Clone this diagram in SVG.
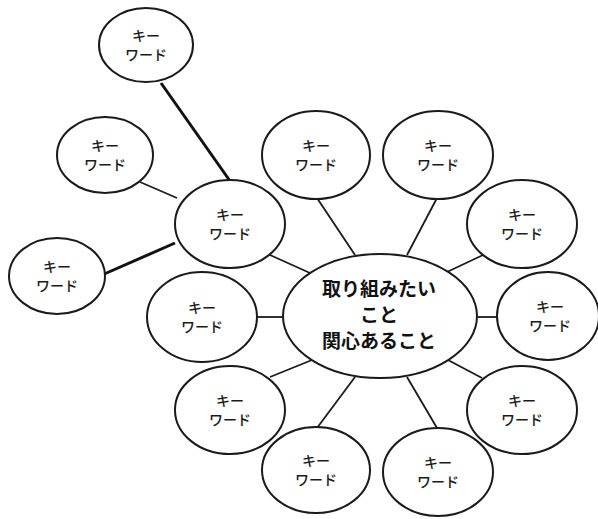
<svg xmlns="http://www.w3.org/2000/svg" width="598" height="519" viewBox="0 0 598 519">
<style>
.n{fill:#fff;stroke:#1a1a1a;stroke-width:2}
.k{font-family:"Noto Sans CJK JP","Noto Sans",sans-serif;font-size:14px;font-weight:500;fill:#1a1a1a;text-anchor:middle}
.c{font-family:"Noto Sans CJK JP","Noto Sans",sans-serif;font-size:19px;font-weight:bold;fill:#111;text-anchor:middle}
.l{stroke:#1a1a1a;stroke-width:1.8;fill:none}
.t{stroke:#111;stroke-width:3;fill:none}
</style>
<rect width="598" height="519" fill="#fff"/>
<g id="connectors">
<line class="t" x1="161" y1="83" x2="230" y2="181"/>
<line class="l" x1="140" y1="182" x2="177" y2="198"/>
<line class="t" x1="102" y1="275" x2="175" y2="243"/>
<line class="l" x1="270" y1="255" x2="310" y2="273"/>
<line class="l" x1="257" y1="317" x2="284" y2="317"/>
<line class="l" x1="270" y1="377" x2="312" y2="360"/>
<line class="l" x1="355" y1="377" x2="317" y2="428"/>
<line class="l" x1="407" y1="377" x2="437" y2="428"/>
<line class="l" x1="448" y1="360" x2="482" y2="378"/>
<line class="l" x1="476" y1="317" x2="497" y2="317"/>
<line class="l" x1="447" y1="272" x2="483" y2="255"/>
<line class="l" x1="437" y1="198" x2="407" y2="255"/>
<line class="l" x1="317" y1="198" x2="355" y2="255"/>
</g>
<g id="center"><ellipse class="n" cx="380" cy="316" rx="97" ry="62"/>
<text class="c" x="379" y="296">取り組みたい</text>
<text class="c" x="379" y="322">こと</text>
<text class="c" x="379" y="348">関心あること</text></g>
<g id="kw1"><ellipse class="n" cx="146" cy="45" rx="47" ry="37"/><text class="k" x="146" y="41">キー</text><text class="k" x="146" y="60">ワード</text></g>
<g id="kw2"><ellipse class="n" cx="105" cy="155" rx="48" ry="38"/><text class="k" x="105" y="151">キー</text><text class="k" x="105" y="170">ワード</text></g>
<g id="kw3"><ellipse class="n" cx="230" cy="224" rx="55" ry="44"/><text class="k" x="230" y="220">キー</text><text class="k" x="230" y="239">ワード</text></g>
<g id="kw4"><ellipse class="n" cx="57" cy="276" rx="48" ry="38"/><text class="k" x="57" y="272">キー</text><text class="k" x="57" y="291">ワード</text></g>
<g id="kw5"><ellipse class="n" cx="202" cy="317" rx="55" ry="45"/><text class="k" x="202" y="313">キー</text><text class="k" x="202" y="332">ワード</text></g>
<g id="kw6"><ellipse class="n" cx="230" cy="410" rx="55" ry="44"/><text class="k" x="230" y="406">キー</text><text class="k" x="230" y="425">ワード</text></g>
<g id="kw7"><ellipse class="n" cx="316" cy="470" rx="54" ry="43"/><text class="k" x="316" y="466">キー</text><text class="k" x="316" y="485">ワード</text></g>
<g id="kw8"><ellipse class="n" cx="438" cy="472" rx="55" ry="44"/><text class="k" x="438" y="468">キー</text><text class="k" x="438" y="487">ワード</text></g>
<g id="kw9"><ellipse class="n" cx="522" cy="410" rx="55" ry="44"/><text class="k" x="522" y="406">キー</text><text class="k" x="522" y="425">ワード</text></g>
<g id="kw10"><ellipse class="n" cx="548" cy="316" rx="51" ry="44"/><text class="k" x="550" y="312">キー</text><text class="k" x="550" y="331">ワード</text></g>
<g id="kw11"><ellipse class="n" cx="522" cy="224" rx="55" ry="44"/><text class="k" x="522" y="220">キー</text><text class="k" x="522" y="239">ワード</text></g>
<g id="kw12"><ellipse class="n" cx="438" cy="155" rx="55" ry="44"/><text class="k" x="438" y="151">キー</text><text class="k" x="438" y="170">ワード</text></g>
<g id="kw13"><ellipse class="n" cx="316" cy="155" rx="54" ry="44"/><text class="k" x="316" y="151">キー</text><text class="k" x="316" y="170">ワード</text></g>
</svg>
